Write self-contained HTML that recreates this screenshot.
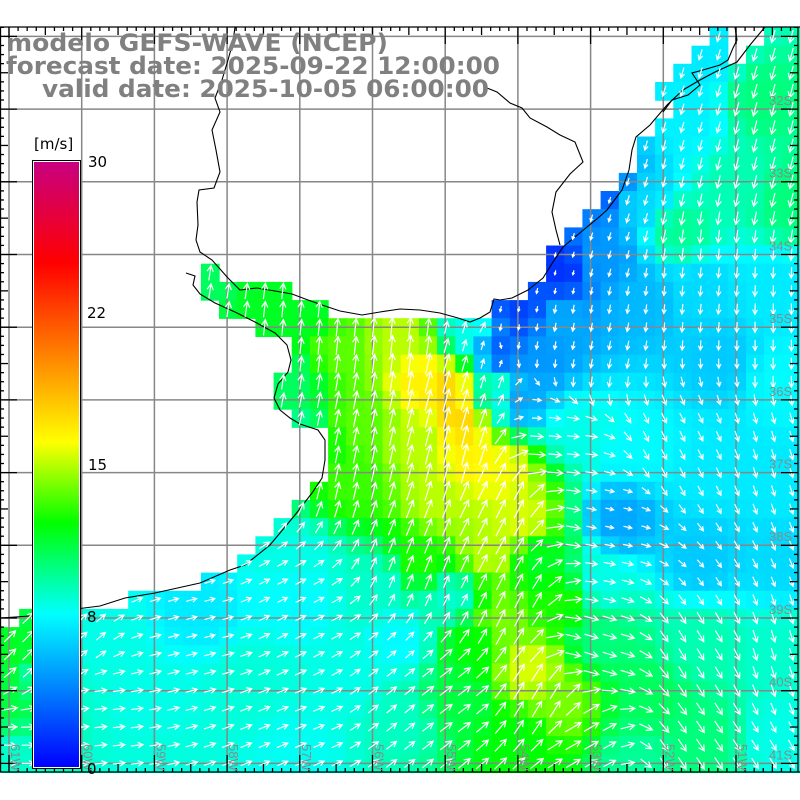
<!DOCTYPE html>
<html><head><meta charset="utf-8"><style>
html,body{margin:0;padding:0;background:#fff;width:800px;height:800px;overflow:hidden}
svg{display:block}
</style></head><body>
<svg id="s" width="800" height="800" xmlns="http://www.w3.org/2000/svg">
<rect width="800" height="800" fill="#fff"/>
<g id="cells"></g>
<g id="grid" stroke="#878787" stroke-width="1.5" fill="none"></g>
<g id="coast" stroke="#000" stroke-width="1.1" fill="none"></g>
<g id="arrows" stroke="#fff" stroke-width="1.2" fill="none" stroke-linecap="square"></g>
<g id="ticks" stroke="#000" stroke-width="1.3"></g>
<g id="labels" font-family="Liberation Sans, DejaVu Sans, sans-serif" font-size="13" fill="#8a8a8a"></g>
<g id="cbar"></g>
<g font-family="DejaVu Sans, Liberation Sans, sans-serif" font-weight="bold" font-size="24" fill="#808080">
<text x="6" y="51" textLength="382" lengthAdjust="spacingAndGlyphs">modelo GEFS-WAVE (NCEP)</text>
<text x="6" y="74" textLength="494" lengthAdjust="spacingAndGlyphs">forecast date: 2025-09-22 12:00:00</text>
<text x="42" y="97" textLength="447" lengthAdjust="spacingAndGlyphs">valid date: 2025-10-05 06:00:00</text>
</g>
</svg>
<script>
var NS="http://www.w3.org/2000/svg";
function el(p,t,a){var e=document.createElementNS(NS,t);for(var k in a)e.setAttribute(k,a[k]);p.appendChild(e);return e;}
var C=18.17, X0=1, Y0=27.5;
var start={0:39,1:38,2:37,3:36,4:37,5:36,6:35,7:35,8:34,9:33,10:32,11:31,12:30,13:30,14:29,15:27,16:14,17:16,18:16,19:15,20:15,21:16,22:18,23:18,24:18,25:17,26:16,27:15,28:14,29:13,30:11,31:7,32:1};
function isOcean(i,j){
  if(j==0&&(i==40||i==41))return false;
  if(j==1&&i==40)return false;
  if(j==13&&i==11)return true;
  if(j==14&&i>=11&&i<=15)return true;
  if(j==15&&i>=12&&i<=17)return true;
  var s=start[j]; if(s===undefined)s=0;
  return i>=s;
}
var P=[[700,60,7],[690,120,7.2],[760,100,10],[790,200,10],[740,180,9],[680,230,9.5],[640,200,6.5],[610,190,3],[600,260,4.5],[560,270,1.5],[520,310,2],[500,350,3],[540,360,4.5],[560,320,5],[640,300,5.5],[700,290,6.5],[770,290,7],[720,360,6],[780,380,7.5],[520,400,5],[580,430,8],[640,450,7.5],[720,460,7],[790,480,7],[620,520,5],[700,560,6],[780,560,6.5],[600,580,8],
[210,280,10.5],[260,295,11.5],[310,310,11.5],[290,380,10.5],[300,440,9.5],[340,350,13.5],[400,340,15],[420,380,16.5],[450,390,17.5],[460,420,17.5],[470,460,16.5],[420,440,15],[360,420,13.5],[350,480,13],[440,500,15],[500,470,16],[520,520,15.5],[490,550,15],[420,560,12.5],[380,585,8.5],[300,560,8],[470,330,8],[490,390,9],[540,560,11.5],[560,600,12.5],[500,620,14],[530,670,15.5],[470,640,12],[560,700,14],[520,740,12],[460,700,11],[600,640,10],[650,700,10.5],[700,640,9],[780,650,8.5],[700,740,10],[780,740,8],[640,760,9.5],
[200,610,7],[300,600,7.5],[100,640,8],[50,680,8.3],[150,700,8],[250,680,8.3],[350,680,8],[400,640,7.5],[400,720,8.7],[300,750,7.8],[150,760,8.2],[10,650,11.5],[10,700,11],[10,760,8.5],[450,600,8.5]];
var D=[[700,80,-0.3,1],[780,150,-0.25,1],[600,220,-0.3,1],[520,320,-0.2,1],[700,300,-0.1,1],[600,350,-0.2,1],[780,350,0,1],
[220,290,0.15,-1],[300,320,0.1,-1],[400,330,0.1,-1],[470,360,0.3,-1],[350,450,0.2,-1],[450,450,0.25,-1],[500,500,0.5,-1],[420,560,0.4,-1],[500,600,0.5,-1],[450,700,0.8,-0.6],[540,700,0.6,-1],
[560,450,1,0.1],[600,520,1,0.2],[600,650,1,0.3],[580,740,0.7,-0.4],[680,450,0.5,1],[780,450,0.3,1],[700,650,0.6,1],[780,650,0.3,1],[700,760,0.6,0.9],
[50,640,0.9,-0.9],[200,640,1,-0.25],[300,620,1,-0.5],[100,720,1,-0.1],[300,720,1,-0.4],[400,700,1,-0.8],[30,760,1,0]];
function idw(x,y,arr,idx){var sw=0,s=[0,0];for(var k=0;k<arr.length;k++){var p=arr[k];var dx=x-p[0],dy=y-p[1];var d2=dx*dx+dy*dy+50;var w=1/(d2*d2);sw+=w;for(var m=0;m<idx.length;m++)s[m]+=w*p[idx[m]];}return s.map(function(v){return v/sw;});}
var stops=[[0,0,0,255],[7.6,0,255,255],[9.9,0,255,128],[12.1,0,255,0],[16.1,255,255,0],[20.5,255,128,0],[25,255,0,0],[30,200,0,128]];
function cmap(v){v=Math.max(0,Math.min(30,v));for(var k=1;k<stops.length;k++){if(v<=stops[k][0]){var a=stops[k-1],b=stops[k],t=(v-a[0])/(b[0]-a[0]);return "rgb("+[1,2,3].map(function(m){return Math.round(a[m]+(b[m]-a[m])*t);}).join(",")+")";}}return "rgb(200,0,128)";}
var g=document.getElementById("cells"),ga=document.getElementById("arrows");
for(var j=0;j<41;j++){for(var i=0;i<44;i++){if(!isOcean(i,j))continue;var x=X0+i*C,y=Y0+j*C;var cx=x+C/2,cy=y+C/2;
 var v=idw(cx,cy,P,[2])[0];
 el(g,"rect",{x:x.toFixed(1),y:y.toFixed(1),width:(C+0.6).toFixed(1),height:(C+0.6).toFixed(1),fill:cmap(v)});
 var d=idw(cx,cy,D,[2,3]);var n=Math.hypot(d[0],d[1])||1;var ux=d[0]/n,uy=d[1]/n;var L=Math.min(22,2+v*1.15);
 var x1=cx-ux*L/2,y1=cy-uy*L/2,x2=cx+ux*L/2,y2=cy+uy*L/2;var h=Math.min(6,L*0.45);
 var ca=Math.cos(0.5),sa=Math.sin(0.5);
 var hx1=x2-h*(ux*ca-uy*sa),hy1=y2-h*(uy*ca+ux*sa),hx2=x2-h*(ux*ca+uy*sa),hy2=y2-h*(uy*ca-ux*sa);
 el(ga,"path",{d:"M"+x1.toFixed(1)+" "+y1.toFixed(1)+"L"+x2.toFixed(1)+" "+y2.toFixed(1)+"M"+hx1.toFixed(1)+" "+hy1.toFixed(1)+"L"+x2.toFixed(1)+" "+y2.toFixed(1)+"L"+hx2.toFixed(1)+" "+hy2.toFixed(1)});
}}
var gg=document.getElementById("grid");var G=72.7;
for(var k=0;k<11;k++){var gx=9+k*G;el(gg,"line",{x1:gx,y1:27,x2:gx,y2:772});var gy=36.4+k*G;el(gg,"line",{x1:0,y1:gy,x2:798,y2:gy});}
var co=document.getElementById("coast");
function pl(pts){el(co,"polyline",{points:pts});}
pl("0,618 30,616 60,611 100,606 125,598 155,593 200,583 230,570 245,565 270,545 295,515 312,493 322,478 325,460 325,440 318,430 300,424 290,418 280,410 274,398 278,384 288,372 291,360 287,345 275,333 255,322 235,312 215,303 200,294 193,285 195,276 186,273");
pl("235,27 233,42 228,60 222,80 215,98 220,112 212,130 216,150 220,172 214,188 199,190 197,202 198,225 196,240 200,252 212,260 228,278 240,290 257,288 275,291 292,294 308,300 322,305 340,311 362,315 380,312 400,309 420,310 440,313 458,318 470,322 480,318 490,312 494,299 500,300 512,298 528,290 543,278 553,262 563,247 575,237 587,227 598,218 607,210 622,190 629,170 632,150 636,137 650,125 667,105 683,90 700,80 715,72 737,62 750,45 765,27");
pl("663,112 672,100 688,95 700,85 692,73 703,70 720,65 728,60 733,48 737,40 735,27");
pl("487,88 497,92 510,103 522,108 530,118 547,127 560,135 575,142 583,162 570,174 556,192 552,212 556,230 560,245");
var t=document.getElementById("ticks");
el(t,"line",{x1:0,y1:27,x2:800,y2:27});el(t,"line",{x1:0,y1:772,x2:800,y2:772});
el(t,"line",{x1:0.5,y1:27,x2:0.5,y2:772});el(t,"line",{x1:798,y1:27,x2:798,y2:772});
for(var k=-2;k<90;k++){var px=9+k*G/8;if(px<0||px>798)continue;var len=(k%8==0)?17:(k%4==0?8:4);
 el(t,"line",{x1:px,y1:27,x2:px,y2:27+len});el(t,"line",{x1:px,y1:772,x2:px,y2:772-len});}
for(var k=-2;k<90;k++){var py=36.4+k*G/8;if(py<27||py>772)continue;var len=(k%8==0)?17:(k%4==0?8:4);
 el(t,"line",{x1:0,y1:py,x2:len,y2:py});el(t,"line",{x1:798,y1:py,x2:798-len,y2:py});}
var lb=document.getElementById("labels");
var lats=["32S","33S","34S","35S","36S","37S","38S","39S","40S","41S"];
for(var k=0;k<10;k++){var e=el(lb,"text",{x:769,y:105+k*G});e.textContent=lats[k];}
var lons=["61W","60W","59W","58W","57W","56W","55W","54W","53W","52W","51W"];
for(var k=0;k<11;k++){var lx=11+k*G;var e=el(lb,"text",{x:0,y:0,transform:"translate("+lx+",744) rotate(90)"});e.textContent=lons[k];}
var cb=document.getElementById("cbar");
var defs=el(cb,"defs",{});var lg=el(defs,"linearGradient",{id:"cg",x1:0,y1:1,x2:0,y2:0});
stops.forEach(function(s){el(lg,"stop",{offset:(s[0]/30).toFixed(3),"stop-color":"rgb("+s[1]+","+s[2]+","+s[3]+")"});});
el(cb,"rect",{x:32.5,y:160.5,width:48,height:608,fill:"#fff",stroke:"#000","stroke-width":1});
el(cb,"rect",{x:34,y:162,width:45,height:605,fill:"url(#cg)"});
var ft={"font-family":"DejaVu Sans, Liberation Sans, sans-serif","font-size":15,fill:"#000"};
[["30",88,167],["22",87,318],["15",88,470],["8",87,622],["0",87,774]].forEach(function(a){var o=Object.assign({x:a[1],y:a[2]},ft);el(cb,"text",o).textContent=a[0];});
var o=Object.assign({x:34,y:149},ft);el(cb,"text",o).textContent="[m/s]";
</script>
</body></html>
